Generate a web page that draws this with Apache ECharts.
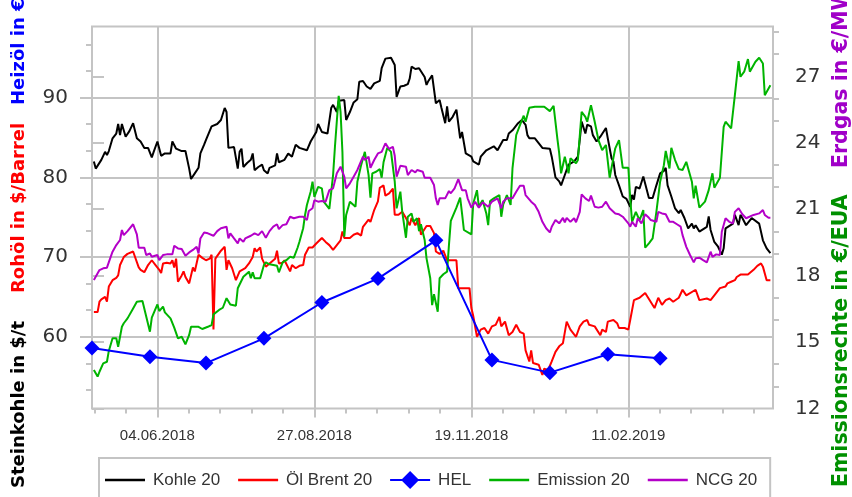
<!DOCTYPE html>
<html>
<head>
<meta charset="utf-8">
<script src="https://cdn.jsdelivr.net/npm/echarts@6/dist/echarts.min.js"></script>
<style>html,body{margin:0;padding:0;background:#fff}#c{width:852px;height:497px}</style>
</head>
<body>
<div id="c"></div>
<script>
// ---- data (x = days after 30.04.2018) ----
const seriesNames = ['Kohle 20', 'Öl Brent 20', 'HEL', 'Emission 20', 'NCG 20'];
const xLabelDates = ['2018-06-04', '2018-08-27', '2018-11-19', '2019-02-11'];
const leftLabels = [60, 70, 80, 90];
const rightLabels = [12, 15, 18, 21, 24, 27];

const kohle = [[1,82.0],[2,81.1],[3,80.9],[5,82.2],[7,83.2],[8,82.8],[9,83.3],[11,84.9],[13,85.5],[14,86.7],[15,85.3],[16,86.7],[17,86.9],[18,85.1],[20,85.8],[22,86.8],[24,84.9],[26,84.5],[28,83.7],[29,83.6],[30,83.7],[32,82.5],[33,83.2],[35,84.5],[37,82.7],[39,83.0],[42,83.0],[43,84.5],[44,84.4],[45,83.6],[48,83.3],[50,83.3],[52,81.1],[53,79.8],[55,80.5],[57,81.2],[58,83.0],[60,84.1],[61,84.7],[64,86.4],[65,86.6],[67,86.7],[69,87.2],[71,88.7],[72,88.2],[73,83.7],[76,83.8],[78,81.1],[79,83.2],[80,83.6],[81,81.3],[83,81.8],[85,82.2],[86,83.0],[87,80.9],[89,81.3],[91,81.6],[92,80.9],[94,80.5],[95,81.2],[98,81.5],[99,83.0],[100,81.9],[103,82.2],[105,83.0],[107,82.6],[109,84.1],[111,83.7],[112,83.6],[115,83.4],[117,84.5],[120,85.7],[121,86.7],[123,85.7],[126,85.5],[128,88.7],[129,89.1],[131,88.2],[132,89.6],[135,89.7],[136,87.2],[138,88.2],[140,89.4],[142,89.8],[143,92.0],[145,92.1],[146,92.1],[147,91.4],[149,91.1],[151,91.8],[154,92.1],[155,93.7],[157,94.9],[160,95.0],[162,94.1],[163,90.1],[165,91.4],[167,91.5],[169,91.7],[170,92.4],[171,93.9],[173,93.6],[175,93.7],[176,93.8],[178,92.6],[179,91.6],[180,92.1],[182,92.8],[184,89.3],[186,89.7],[187,88.7],[189,86.8],[190,88.9],[191,87.0],[193,87.6],[195,88.5],[197,84.9],[198,85.7],[200,83.0],[203,82.6],[204,82.0],[205,82.2],[207,81.6],[208,82.6],[211,83.4],[212,83.2],[215,83.9],[217,83.4],[220,84.7],[222,84.7],[223,85.5],[225,85.9],[228,86.8],[230,87.2],[232,86.6],[233,85.3],[234,84.9],[237,84.9],[239,84.3],[241,83.7],[245,83.6],[246,82.6],[248,80.0],[250,79.5],[251,79.0],[253,80.3],[255,81.6],[258,82.0],[260,82.6],[261,84.7],[262,87.0],[264,85.5],[265,86.6],[267,86.4],[268,85.3],[270,84.5],[272,85.1],[273,85.1],[275,86.2],[276,84.9],[278,82.4],[279,82.0],[280,80.3],[282,79.0],[284,77.6],[286,77.3],[288,76.3],[289,77.8],[290,77.2],[291,78.8],[293,78.6],[295,80.1],[298,77.4],[300,77.4],[302,79.0],[304,80.5],[306,80.8],[307,81.2],[308,79.0],[310,77.6],[312,76.1],[314,75.5],[315,75.9],[317,74.9],[318,75.1],[319,73.6],[321,74.2],[322,73.6],[323,74.0],[325,73.2],[329,73.8],[330,75.1],[331,73.4],[333,71.9],[335,71.3],[337,70.3],[338,71.1],[339,73.6],[343,74.2],[344,75.3],[346,74.0],[347,75.3],[348,74.9],[350,74.0],[353,74.9],[357,74.2],[359,72.1],[361,71.1],[363,70.5]];

const oelBrent = [[1,63.1],[3,63.1],[4,64.4],[5,64.7],[7,65.0],[8,64.4],[9,66.3],[11,67.1],[13,67.4],[14,67.7],[15,69.0],[17,70.0],[19,70.4],[22,70.7],[23,70.8],[25,68.7],[26,68.4],[28,68.1],[30,69.0],[32,69.6],[34,69.0],[36,68.4],[37,68.0],[38,69.2],[40,69.3],[42,69.2],[43,69.6],[44,68.7],[45,69.8],[46,66.9],[48,67.7],[49,68.2],[50,67.5],[52,66.7],[54,68.7],[55,68.2],[57,70.3],[59,69.9],[61,69.6],[63,69.8],[64,70.3],[65,60.9],[66,69.8],[69,70.8],[71,71.3],[72,68.4],[73,69.6],[74,69.8],[75,68.6],[77,67.1],[79,68.2],[82,68.6],[84,69.2],[86,70.0],[87,71.1],[88,70.7],[90,71.2],[91,69.8],[93,68.8],[95,69.2],[96,69.3],[98,69.8],[99,70.8],[100,69.2],[102,69.3],[103,69.6],[106,68.2],[107,69.0],[109,68.6],[111,68.9],[113,69.0],[114,70.3],[116,71.2],[118,71.2],[120,71.7],[121,71.5],[123,72.4],[125,71.9],[127,71.5],[129,70.9],[131,71.5],[133,72.1],[134,73.2],[135,72.4],[138,72.4],[140,72.8],[142,73.0],[144,72.7],[145,73.8],[146,74.0],[148,74.7],[149,74.4],[151,75.9],[153,77.0],[154,78.7],[156,79.0],[157,77.7],[159,78.0],[161,78.6],[162,75.3],[164,75.3],[166,75.7],[168,74.9],[170,74.0],[171,74.9],[173,74.0],[175,74.9],[176,72.8],[179,73.9],[181,73.9],[183,73.0],[184,70.7],[186,70.4],[188,70.8],[190,69.6],[195,69.6],[196,66.1],[202,66.1],[203,63.6],[204,62.6],[206,60.0],[208,60.9],[210,61.1],[212,60.4],[214,61.3],[216,61.5],[218,62.5],[219,61.3],[221,61.9],[223,60.2],[225,60.6],[227,61.5],[229,60.6],[231,60.4],[232,58.3],[234,56.9],[235,58.3],[236,56.7],[239,56.5],[241,55.2],[242,56.0],[244,55.8],[246,56.9],[248,58.1],[250,58.8],[252,59.2],[254,61.9],[255,62.1],[256,60.9],[259,60.0],[261,61.3],[263,61.9],[265,62.1],[266,61.5],[269,61.3],[272,60.2],[273,60.9],[275,60.6],[276,61.9],[279,62.1],[281,61.7],[282,61.1],[285,61.1],[287,60.9],[288,62.1],[290,64.6],[293,64.9],[296,65.5],[297,65.3],[301,63.6],[303,64.9],[305,64.0],[307,64.6],[309,64.8],[311,64.4],[314,64.9],[316,65.9],[318,65.2],[323,65.9],[325,64.6],[329,64.8],[331,64.6],[333,65.2],[336,66.1],[339,66.3],[340,66.7],[342,66.9],[344,67.1],[345,67.5],[347,67.8],[351,67.8],[354,68.4],[356,68.9],[358,69.2],[359,68.8],[361,67.1],[363,67.1]];

const helDates = ['2018-04-30','2018-05-31','2018-06-30','2018-07-31','2018-08-31','2018-09-30','2018-10-31','2018-11-30','2018-12-31','2019-01-31','2019-02-28'];
const helValues = [58.6, 57.5, 56.7, 59.8, 64.3, 67.3, 72.1, 57.1, 55.5, 57.8, 57.3];

const emission = [[1,13.74],[3,13.44],[4,13.66],[6,14.04],[8,14.11],[9,14.6],[11,15.17],[13,15.17],[14,14.79],[16,15.69],[17,15.85],[19,16.07],[22,16.52],[24,16.82],[27,16.85],[28,16.9],[31,15.47],[32,16.1],[35,16.7],[36,16.4],[38,16.6],[39,16.34],[42,16.07],[44,15.65],[46,15.17],[48,15.24],[50,14.9],[52,15.32],[53,15.69],[57,15.69],[59,15.59],[62,15.69],[64,15.77],[65,16.25],[68,16.45],[70,16.55],[72,16.98],[74,16.7],[77,16.64],[78,17.43],[81,17.95],[84,18.18],[85,17.88],[86,18.15],[87,17.88],[90,17.88],[92,18.48],[93,18.6],[95,18.51],[99,18.45],[100,18.15],[102,18.6],[104,18.7],[106,18.85],[108,18.81],[110,19.26],[111,19.53],[113,20.14],[114,20.74],[115,21.19],[117,21.79],[118,22.24],[119,21.56],[121,22.01],[123,21.94],[124,21.34],[127,21.01],[128,20.96],[129,22.54],[130,23.82],[132,26.12],[133,25.4],[134,23.59],[135,19.76],[136,20.74],[138,21.34],[139,21.41],[141,21.11],[142,22.24],[144,22.99],[146,23.59],[148,22.54],[149,21.52],[150,22.62],[152,22.69],[154,22.81],[155,22.42],[156,23.12],[158,23.77],[159,23.74],[160,23.59],[162,22.24],[163,21.04],[165,21.79],[166,20.89],[168,19.71],[169,20.66],[171,20.81],[172,20.43],[174,20.59],[175,20.01],[176,20.32],[178,19.61],[179,18.78],[181,17.88],[182,16.67],[183,17.16],[185,16.37],[186,17.88],[188,18.06],[190,18.18],[191,19.38],[192,20.47],[193,20.56],[195,21.07],[197,21.52],[198,20.81],[199,20.06],[200,20.1],[203,19.86],[204,21.26],[206,21.86],[207,21.11],[209,21.41],[211,20.81],[212,20.28],[213,21.37],[215,21.49],[218,21.64],[219,20.66],[220,21.2],[222,21.64],[224,21.19],[225,22.84],[227,24.35],[229,24.8],[231,25.22],[232,24.95],[234,25.58],[237,25.63],[242,25.63],[245,25.43],[247,25.67],[249,24.2],[250,23.52],[251,22.62],[253,23.37],[255,22.62],[256,23.3],[259,23.07],[260,23.22],[262,25.4],[264,25.17],[265,24.95],[267,25.7],[269,24.95],[271,24.12],[273,23.67],[275,23.9],[277,22.42],[279,23.32],[280,23.75],[282,24.12],[284,22.87],[287,22.87],[288,21.49],[289,20.43],[291,20.88],[293,20.5],[295,20.96],[296,19.26],[298,19.46],[300,19.68],[302,20.88],[304,22.24],[306,22.99],[307,23.63],[309,22.84],[310,23.77],[312,23.22],[314,22.81],[316,22.77],[318,23.14],[321,22.24],[322,21.49],[323,22.06],[325,21.07],[328,21.34],[330,21.86],[332,22.62],[333,21.97],[336,22.42],[338,24.72],[339,24.95],[342,24.65],[344,26.15],[346,27.69],[347,26.98],[349,27.21],[351,27.78],[352,27.21],[355,27.66],[357,27.84],[359,27.58],[360,26.15],[363,26.6]];

const ncg = [[1,17.8],[2,17.72],[4,18.25],[6,18.33],[8,18.36],[10,18.85],[11,19.08],[13,19.38],[15,19.61],[16,20.06],[17,19.83],[19,20.01],[22,20.32],[24,19.86],[25,19.26],[26,19.2],[28,19.26],[29,18.93],[31,19.0],[32,18.85],[35,18.93],[36,18.7],[38,18.93],[40,18.96],[43,18.96],[44,19.35],[46,19.23],[48,19.2],[50,18.9],[52,19.05],[54,19.16],[56,19.3],[57,19.0],[58,19.68],[60,19.95],[62,19.91],[65,19.8],[67,20.01],[69,20.14],[72,20.21],[73,19.68],[74,19.91],[76,19.68],[78,19.46],[79,19.68],[81,19.53],[82,19.68],[85,19.8],[87,19.91],[89,19.83],[91,20.01],[93,19.71],[95,20.01],[97,20.21],[99,20.32],[100,20.1],[102,20.28],[104,20.32],[106,20.66],[108,20.59],[111,20.66],[113,20.66],[115,20.51],[116,20.92],[118,21.04],[119,21.41],[121,21.34],[123,21.37],[125,21.34],[127,21.86],[129,21.94],[131,22.62],[133,22.92],[135,22.47],[136,21.94],[138,22.17],[140,22.47],[142,22.77],[145,23.37],[146,23.22],[148,23.37],[149,22.87],[151,23.22],[153,23.52],[155,23.59],[157,23.97],[159,23.72],[161,23.82],[162,23.41],[163,22.47],[165,22.96],[168,22.92],[169,22.54],[171,22.77],[173,22.66],[174,22.77],[177,22.69],[178,22.42],[181,22.42],[183,22.09],[184,21.49],[185,21.19],[186,21.49],[189,21.49],[191,21.82],[192,21.72],[194,21.94],[196,22.36],[198,21.86],[200,21.86],[201,21.49],[203,21.07],[205,21.34],[207,21.07],[209,21.31],[212,21.11],[214,21.34],[217,21.49],[219,21.04],[220,21.34],[222,21.49],[225,21.49],[227,21.79],[229,22.06],[231,22.06],[232,21.64],[235,21.34],[237,21.19],[239,20.88],[241,20.43],[243,20.14],[245,19.95],[246,20.21],[248,20.51],[250,20.36],[252,20.61],[253,20.41],[254,20.61],[256,20.43],[258,20.59],[259,20.41],[261,20.88],[262,21.67],[264,21.49],[266,21.37],[267,21.61],[269,21.11],[271,21.07],[273,21.11],[275,21.34],[277,21.04],[280,20.81],[282,20.77],[284,20.66],[287,20.36],[288,20.21],[289,20.43],[291,20.21],[292,20.59],[294,20.36],[296,20.77],[298,20.61],[299,20.51],[302,20.43],[303,20.88],[305,20.81],[307,20.77],[309,20.43],[311,20.43],[313,20.32],[315,20.21],[316,19.83],[318,19.3],[320,18.93],[322,18.6],[323,18.78],[325,18.81],[327,18.7],[329,18.6],[331,19.08],[332,18.85],[334,18.96],[336,18.93],[337,19.98],[339,20.59],[341,20.43],[343,20.36],[344,20.88],[346,21.04],[348,20.77],[350,20.59],[351,20.66],[354,20.74],[357,20.81],[359,20.96],[360,20.74],[362,20.61],[363,20.61]];

// ---- helpers ----
const DAY = 86400000;
function parseDate(s) { const p = s.split('-').map(Number); return Date.UTC(p[0], p[1] - 1, p[2]); }
const BASE = parseDate('2018-04-30');
const dayOf = s => Math.round((parseDate(s) - BASE) / DAY);
const pad = n => String(n).padStart(2, '0');
function fmtDay(v) { const d = new Date(BASE + Math.round(v) * DAY); return pad(d.getUTCDate()) + '.' + pad(d.getUTCMonth() + 1) + '.' + d.getUTCFullYear(); }

const xMin = 0, xMax = 364.4;
const xMajor = xLabelDates.map(dayOf);
const xMinor = [];
for (let k = -2; k <= 19; k++) { if (k % 5 !== 0) xMinor.push(xMajor[0] + k * 16.8); }
const leftMinor = [];
for (let v = 50; v < 99; v += 10) { leftMinor.push(v + 10 / 3, v + 20 / 3); }
const rightMinor = [];
for (let v = 12; v <= 29; v++) { if (v % 3 !== 0) rightMinor.push(v); }

const GRAY = '#c4c4c4';
const LMIN = 51, LMAX = 98.93, RMIN = 12, RMAX = 29.25;
const tickStyle = { color: GRAY, width: 2 };
const LINE_ICON = 'path://M0,0 L40,0 L40,2.4 L0,2.4 Z';
const DIAMOND_ICON = 'path://M0,8 L12,8 L20,0 L28,8 L40,8 L40,10 L28,10 L20,18 L12,10 L0,10 Z';

const chart = echarts.init(document.getElementById('c'), null, { renderer: 'canvas' });
chart.setOption({
  animation: false,
  backgroundColor: '#fff',
  grid: { left: 92, right: 79, top: 26.5, bottom: 88.5, show: true, borderColor: GRAY, borderWidth: 2, backgroundColor: 'transparent', outerBoundsMode: 'none' },
  xAxis: [
    { type: 'value', min: xMin, max: xMax, position: 'bottom',
      axisLine: { show: false },
      axisTick: { show: true, length: 9, lineStyle: tickStyle, customValues: xMajor },
      axisLabel: { show: true, customValues: xMajor, formatter: fmtDay, margin: 20, fontFamily: 'Liberation Sans', fontSize: 15, color: '#333' },
      splitLine: { show: true, lineStyle: { color: GRAY, width: 2 } } },
    { type: 'value', min: xMin, max: xMax, position: 'bottom',
      axisLine: { show: false }, axisLabel: { show: false }, splitLine: { show: false },
      axisTick: { show: true, length: 5, lineStyle: tickStyle, customValues: xMinor } }
  ],
  yAxis: [
    { type: 'value', min: LMIN, max: LMAX, position: 'left',
      axisLine: { show: false },
      axisTick: { show: true, length: 12, lineStyle: tickStyle, customValues: leftLabels },
      axisLabel: { customValues: leftLabels, margin: 24, fontFamily: 'DejaVu Sans', fontSize: 20, color: '#333' },
      splitLine: { show: true, lineStyle: { color: GRAY, width: 2 } } },
    { type: 'value', min: RMIN, max: RMAX, position: 'right',
      axisLine: { show: false },
      axisTick: { show: true, length: 12, lineStyle: tickStyle, customValues: rightLabels },
      axisLabel: { customValues: rightLabels, margin: 22, fontFamily: 'DejaVu Sans', fontSize: 20, color: '#333' },
      splitLine: { show: false } },
    { type: 'value', min: LMIN, max: LMAX, position: 'left',
      axisLine: { show: false }, axisLabel: { show: false }, splitLine: { show: false },
      axisTick: { show: true, length: 6, lineStyle: tickStyle, customValues: leftMinor } },
    { type: 'value', min: RMIN, max: RMAX, position: 'right',
      axisLine: { show: false }, axisLabel: { show: false }, splitLine: { show: false },
      axisTick: { show: true, length: 6, lineStyle: tickStyle, customValues: rightMinor } }
  ],
  legend: {
    left: 99, top: 458, padding: [13, 13, 16, 6], itemGap: 18, itemWidth: 40, itemHeight: 18,
    borderColor: GRAY, borderWidth: 2, backgroundColor: '#fff',
    textStyle: { fontFamily: 'Liberation Sans', fontSize: 17, color: '#333', padding: [0, 0, 0, 3] },
    data: seriesNames.map(n => ({ name: n, icon: n === 'HEL' ? DIAMOND_ICON : LINE_ICON }))
  },
  graphic: [
    { type: 'text', x: 19, y: 488, rotation: Math.PI / 2, style: { text: 'Steinkohle in $/t', fill: '#000', font: 'bold 18px "DejaVu Sans"', textAlign: 'left', textVerticalAlign: 'middle' } },
    { type: 'text', x: 19, y: 293, rotation: Math.PI / 2, style: { text: 'Rohöl in $/Barrel', fill: '#ff0000', font: 'bold 18px "DejaVu Sans"', textAlign: 'left', textVerticalAlign: 'middle' } },
    { type: 'text', x: 19, y: 105, rotation: Math.PI / 2, style: { text: 'Heizöl in €/hl', fill: '#0000ff', font: 'bold 18px "DejaVu Sans"', textAlign: 'left', textVerticalAlign: 'middle' } },
    { type: 'text', x: 842, y: 487, rotation: Math.PI / 2, style: { text: 'Emissionsrechte in €/EUA', fill: '#009000', font: 'bold 20.5px "DejaVu Sans"', textAlign: 'left', textVerticalAlign: 'middle' } },
    { type: 'text', x: 842, y: 168, rotation: Math.PI / 2, style: { text: 'Erdgas in €/MWh', fill: '#a000c8', font: 'bold 20.5px "DejaVu Sans"', textAlign: 'left', textVerticalAlign: 'middle' } }
  ],
  series: [
    { name: 'Kohle 20', type: 'line', xAxisIndex: 0, yAxisIndex: 0, data: kohle, showSymbol: false, symbol: 'none', lineStyle: { color: '#000', width: 2 }, itemStyle: { color: '#000' } },
    { name: 'Öl Brent 20', type: 'line', xAxisIndex: 0, yAxisIndex: 0, data: oelBrent, showSymbol: false, symbol: 'none', lineStyle: { color: '#ff0000', width: 2 }, itemStyle: { color: '#ff0000' } },
    { name: 'Emission 20', type: 'line', xAxisIndex: 0, yAxisIndex: 1, data: emission, showSymbol: false, symbol: 'none', lineStyle: { color: '#00b400', width: 2 }, itemStyle: { color: '#00b400' } },
    { name: 'NCG 20', type: 'line', xAxisIndex: 0, yAxisIndex: 1, data: ncg, showSymbol: false, symbol: 'none', lineStyle: { color: '#b400c8', width: 2 }, itemStyle: { color: '#b400c8' } },
    { name: 'HEL', type: 'line', xAxisIndex: 0, yAxisIndex: 0, data: helDates.map((d, i) => [dayOf(d), helValues[i]]), symbol: 'diamond', symbolSize: 15, showSymbol: true, lineStyle: { color: '#0000ff', width: 2 }, itemStyle: { color: '#0000ff' }, z: 3 }
  ]
});
</script>
</body>
</html>
